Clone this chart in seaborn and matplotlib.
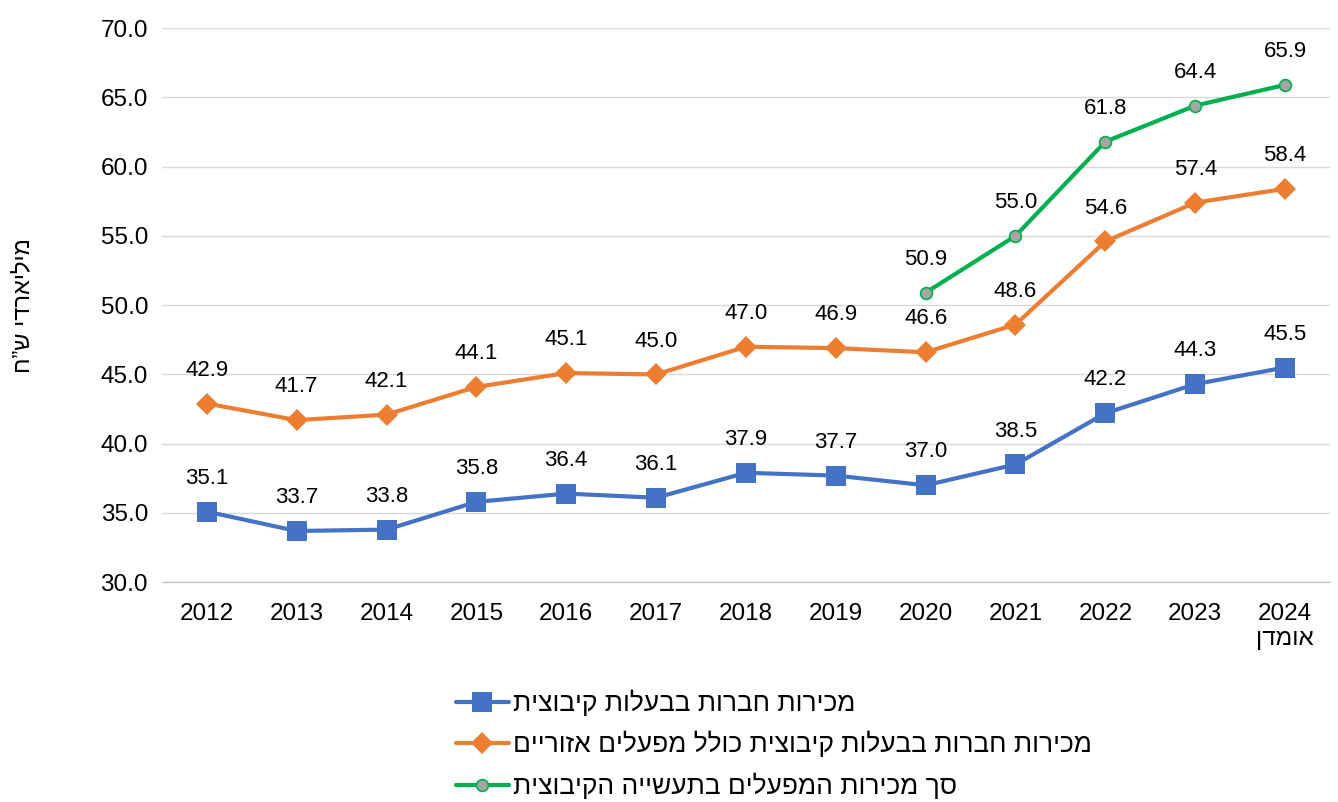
import numpy as np
import pandas as pd
import matplotlib
matplotlib.use("Agg")
import matplotlib.pyplot as plt
import seaborn as sns

# data
years = ["2012", "2013", "2014", "2015", "2016", "2017", "2018",
         "2019", "2020", "2021", "2022", "2023", "2024\nאומדן"]
kibbutz_companies = [35.1, 33.7, 33.8, 35.8, 36.4, 36.1, 37.9, 37.7, 37.0, 38.5, 42.2, 44.3, 45.5]
incl_regional = [42.9, 41.7, 42.1, 44.1, 45.1, 45.0, 47.0, 46.9, 46.6, 48.6, 54.6, 57.4, 58.4]
total_industry_years = ["2020", "2021", "2022", "2023", "2024\nאומדן"]
total_industry = [50.9, 55.0, 61.8, 64.4, 65.9]

label_blue = "מכירות חברות בבעלות קיבוצית"
label_orange = "מכירות חברות בבעלות קיבוצית כולל מפעלים אזוריים"
label_green = "סך מכירות המפעלים בתעשייה הקיבוצית"
y_title = "מיליארדי ש”ח"


def vis(s):
    # matplotlib has no bidi, so flip hebrew runs per line
    out = []
    for line in s.split("\n"):
        if any("\u0590" <= c <= "\u05ff" for c in line):
            out.append(line[::-1])
        else:
            out.append(line)
    return "\n".join(out)


sns.set_style("white")
plt.rcParams["font.family"] = ["Liberation Sans", "DejaVu Sans"]
plt.rcParams["text.color"] = "#000000"

fig = plt.figure(figsize=(13.38, 8.02), dpi=100)
ax = fig.add_axes([0.121, 0.274, 0.873, 0.691])

x_all = np.arange(len(years))
x_green = np.array([years.index(y) for y in total_industry_years])

blue = "#4472C4"
orange = "#ED7D31"
green = "#00B050"

sns.lineplot(x=x_all, y=kibbutz_companies, ax=ax, color=blue, linewidth=3,
             marker="s", markersize=14.5, markeredgewidth=0, label=vis(label_blue))
sns.lineplot(x=x_all, y=incl_regional, ax=ax, color=orange, linewidth=3,
             marker="D", markersize=11, markeredgewidth=0, label=vis(label_orange))
sns.lineplot(x=x_green, y=total_industry, ax=ax, color=green, linewidth=3,
             marker="o", markersize=8.5, markerfacecolor="#A5A5A5",
             markeredgecolor=green, markeredgewidth=1.2, label=vis(label_green))

for xs, ys in [(x_all, kibbutz_companies), (x_all, incl_regional), (x_green, total_industry)]:
    for xi, yi in zip(xs, ys):
        ax.annotate(f"{yi:.1f}", (xi, yi), xytext=(0, 24), textcoords="offset points",
                    ha="center", va="center", fontsize=16, color="#000000")

ax.set_xlim(-0.5, len(years) - 0.5)
ax.set_ylim(30, 70)
ax.set_yticks(np.arange(30, 71, 5))
ax.set_yticklabels([f"{v:.1f}" for v in np.arange(30, 71, 5)], fontsize=17.5, color="#000000")
ax.set_xticks(x_all)
ax.set_xticklabels([vis(y) for y in years], fontsize=17.5, color="#000000")
ax.set_xticks(np.arange(-0.5, len(years), 1), minor=True)
ax.tick_params(axis="x", which="major", length=0, pad=15)
ax.tick_params(axis="x", which="minor", length=7, color="#BFBFBF", width=1)
ax.tick_params(axis="y", length=0, pad=10)

ax.grid(axis="y", color="#D9D9D9", linewidth=1)
ax.set_axisbelow(True)
for side in ["left", "right", "top"]:
    ax.spines[side].set_visible(False)
ax.spines["bottom"].set_color("#BFBFBF")
ax.set_xlabel("")
ax.set_ylabel(vis(y_title), fontsize=17, labelpad=48, color="#000000")

handles, labels = ax.get_legend_handles_labels()
ax.get_legend().remove()
fig.legend(handles, labels, loc="upper left", bbox_to_anchor=(0.323, 0.17),
           frameon=False, fontsize=19, handlelength=2.0, handletextpad=0.15,
           labelspacing=0.58)

fig.savefig("out.png", dpi=100)
